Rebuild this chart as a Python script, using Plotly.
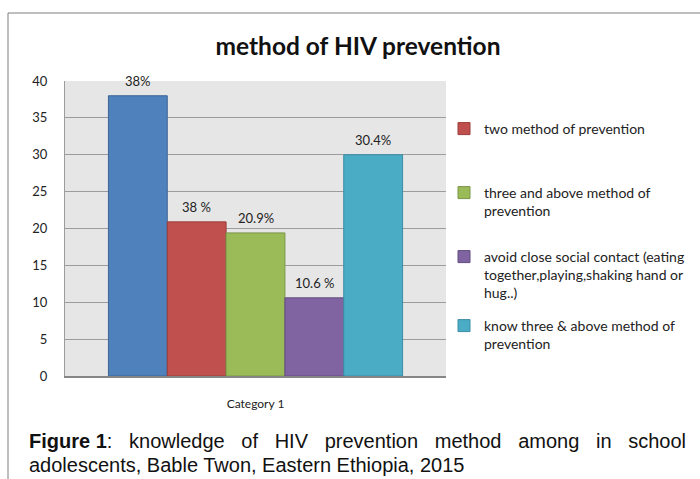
import plotly.graph_objects as go

# ---- data ----
category = ["Category 1"]
series_names = [
    "",
    "two method of prevention",
    "three and above method of<br>prevention",
    "avoid close social contact (eating<br>together,playing,shaking hand or<br>hug..)",
    "know three & above method of<br>prevention",
]
values = [38, 20.9, 19.4, 10.6, 30]
value_labels = ["38%", "38 %", "20.9%", "10.6 %", "30.4%"]
colors = ["#4f81bd", "#c0504d", "#9bbb59", "#8064a2", "#4bacc6"]
edge_colors = ["#3c6595", "#9c3d3a", "#7a9645", "#634d80", "#3b8da3"]
y_ticks = [0, 5, 10, 15, 20, 25, 30, 35, 40]

W, H = 700, 479
ML, MR, MT, MB = 65, 254, 81, 103
BARGAP = 0.228
plot_w = W - ML - MR
plot_h = H - MT - MB


def px_x(px):
    return (px - ML) / plot_w


def px_y(py):
    return (H - MB - py) / plot_h


fig = go.Figure()
legend_ids = [None, "legend", "legend2", "legend3", "legend4"]
for i, (name, v, c, ec) in enumerate(zip(series_names, values, colors, edge_colors)):
    kw = dict(
        x=category,
        y=[v],
        name=name,
        marker=dict(color=c, line=dict(color=ec, width=1)),
        showlegend=i > 0,
        hoverinfo="skip",
    )
    if i > 0:
        kw["legend"] = legend_ids[i]
    fig.add_trace(go.Bar(**kw))

# value labels above bars
n = len(values)
bw = plot_w * (1 - BARGAP) / n
for i, (v, lab) in enumerate(zip(values, value_labels)):
    fig.add_annotation(
        x=category[0], y=v, xref="x", yref="y", text=lab, showarrow=False,
        xshift=(i - (n - 1) / 2) * bw, yshift=15, yanchor="middle",
        font=dict(family="Lato", size=13, color="#222222"),
    )

legend_tops = [113, 177, 241, 310]
leg_font = dict(family="Lato", size=14, color="#222222")
layout_legends = {}
for k, lid in enumerate(legend_ids[1:]):
    layout_legends[lid] = dict(
        x=px_x(444), y=px_y(legend_tops[k]), xanchor="left", yanchor="top",
        font=leg_font, bgcolor="rgba(0,0,0,0)", itemwidth=30, valign="top",
    )

# caption
cap_font = dict(family="Liberation Sans", size=20, color="#111111")
sp = "\u00a0\u00a0"
line1 = ("<b>Figure 1</b>:" + sp + " knowledge" + sp + " of" + sp + " HIV" + sp + " prevention"
         + sp + " method" + sp + " among" + sp + " in" + sp + " school")
fig.add_annotation(x=px_x(27), y=px_y(441), xref="paper", yref="paper", text=line1,
                   showarrow=False, xanchor="left", yanchor="middle", font=cap_font)
fig.add_annotation(x=px_x(27), y=px_y(465), xref="paper", yref="paper",
                   text="adolescents, Bable Twon, Eastern Ethiopia, 2015",
                   showarrow=False, xanchor="left", yanchor="middle", font=cap_font)

# outer frame
frame = dict(color="#7f7f7f", width=1)
fig.add_shape(type="line", xref="paper", yref="paper", x0=px_x(8), x1=px_x(701),
              y0=px_y(13), y1=px_y(13), line=frame)
fig.add_shape(type="line", xref="paper", yref="paper", x0=px_x(8), x1=px_x(8),
              y0=px_y(13), y1=px_y(480), line=frame)

fig.update_layout(
    width=W, height=H,
    margin=dict(l=ML, r=MR, t=MT, b=MB, autoexpand=False),
    paper_bgcolor="white",
    plot_bgcolor="#e6e6e6",
    barmode="group", bargap=BARGAP, bargroupgap=0,
    title=dict(text="<b>method of HIV prevention</b>", x=358 / W, xanchor="center",
               y=1 - 46 / H, yanchor="middle", yref="container",
               font=dict(family="Lato", size=24.5, color="#111111")),
    xaxis=dict(showline=True, linecolor="#868686", linewidth=1.5, ticks="",
               tickfont=dict(family="Lato", size=12, color="#222222"),
               ticklabelstandoff=16, automargin=False),
    yaxis=dict(range=[0, 40], tickvals=y_ticks, showgrid=True, gridcolor="#9c9c9c",
               gridwidth=1, showline=True, linecolor="#9c9c9c", zeroline=False, ticks="",
               tickfont=dict(family="Lato", size=13, color="#222222"),
               ticklabelstandoff=14, automargin=False),
    showlegend=True,
    **layout_legends,
)

fig.write_html("out.html")
